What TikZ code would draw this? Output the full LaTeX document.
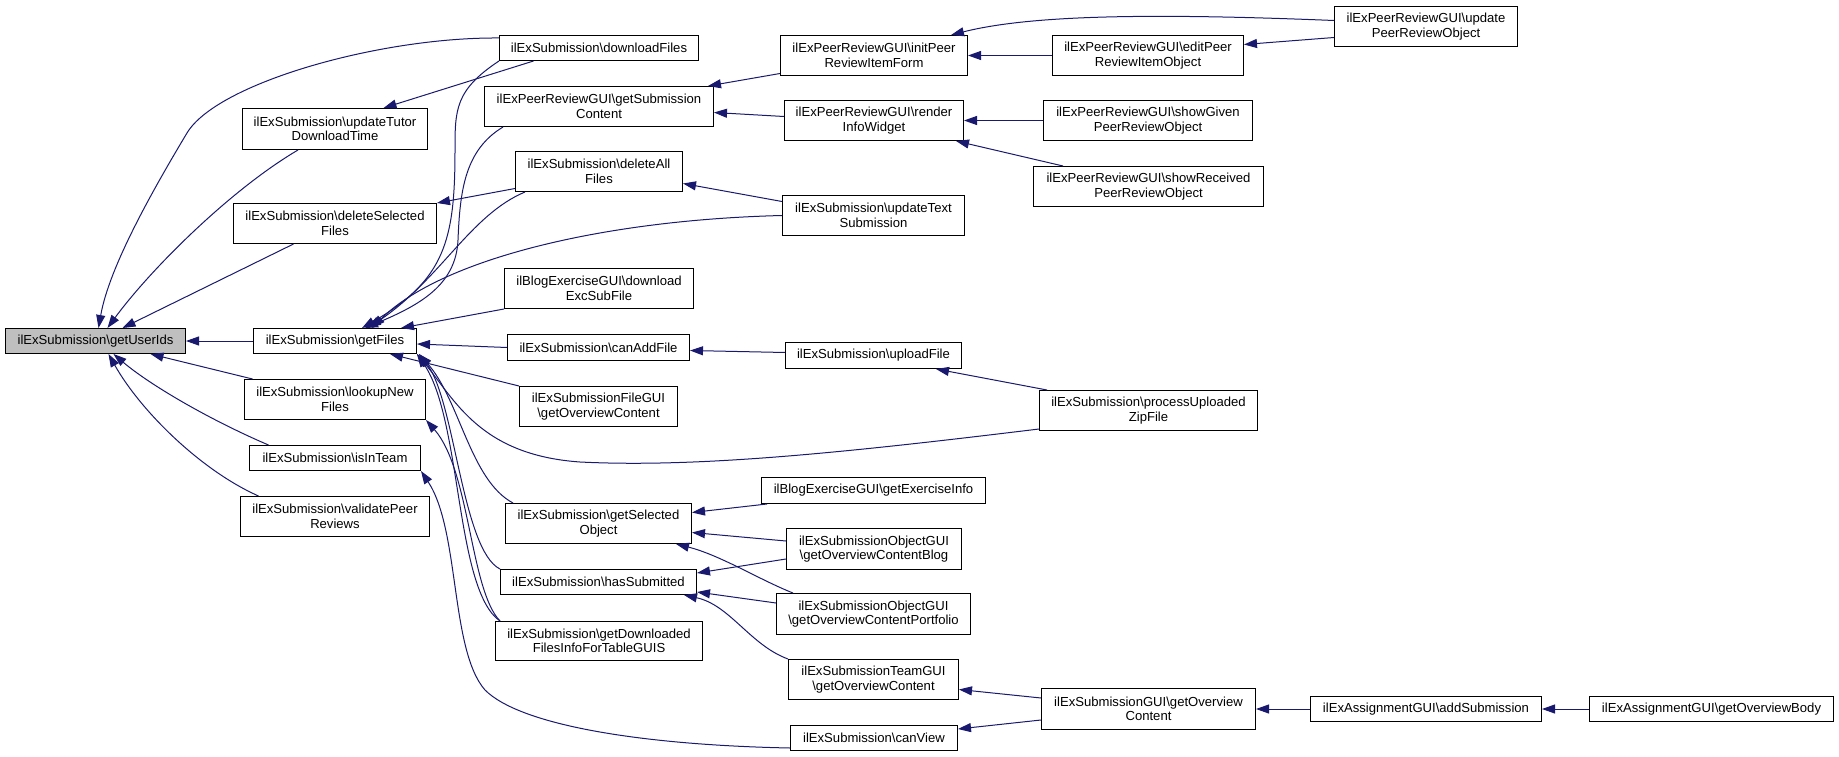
\documentclass[tikz,border=0pt]{standalone}
\usepackage{fontspec}
\setmainfont{Liberation Sans}
\usetikzlibrary{arrows.meta}
\newcommand\bsl{\textbackslash}
\definecolor{edgeblue}{HTML}{191970}
\definecolor{hilite}{HTML}{BFBFBF}
\begin{document}
\begin{tikzpicture}[x=1pt,y=-1pt,
  box/.style={draw=black,line width=1pt,inner sep=0pt,align=center,anchor=north west,
    font=\fontsize{13.1pt}{14.5pt}\selectfont},
  edge/.style={draw=edgeblue,line width=1pt,-{Triangle[length=13pt,width=9pt]}}]
\fill[white] (0,0) rectangle (1839,757);
\useasboundingbox (0,0) rectangle (1839,757);
% column 0
\node[box,fill=hilite,minimum width=180pt,minimum height=25pt] (uid) at (5,328) {ilExSubmission\bsl getUserIds};
% column 1
\node[box,minimum width=185pt,minimum height=41pt] (utdt) at (242,108) {ilExSubmission\bsl updateTutor\\DownloadTime};
\node[box,minimum width=203pt,minimum height=40pt] (dsf) at (233,203) {ilExSubmission\bsl deleteSelected\\Files};
\node[box,minimum width=163pt,minimum height=25pt] (gf) at (253,328) {ilExSubmission\bsl getFiles};
\node[box,minimum width=181pt,minimum height=40pt] (lnf) at (244,379) {ilExSubmission\bsl lookupNew\\Files};
\node[box,minimum width=171pt,minimum height=25pt] (iit) at (249,445) {ilExSubmission\bsl isInTeam};
\node[box,minimum width=189pt,minimum height=40pt] (vpr) at (240,496) {ilExSubmission\bsl validatePeer\\Reviews};
% column 2
\node[box,minimum width=199pt,minimum height=25pt] (dl) at (499,35) {ilExSubmission\bsl downloadFiles};
\node[box,minimum width=229pt,minimum height=40pt] (gsc) at (484,86) {ilExPeerReviewGUI\bsl getSubmission\\Content};
\node[box,minimum width=167pt,minimum height=40pt] (daf) at (515,151) {ilExSubmission\bsl deleteAll\\Files};
\node[box,minimum width=189pt,minimum height=40pt] (desf) at (504,268) {ilBlogExerciseGUI\bsl download\\ExcSubFile};
\node[box,minimum width=182pt,minimum height=26pt] (caf) at (507,334) {ilExSubmission\bsl canAddFile};
\node[box,minimum width=158pt,minimum height=40pt] (fgui) at (519,386) {ilExSubmissionFileGUI\\\bsl getOverviewContent};
\node[box,minimum width=186pt,minimum height=40pt] (gso) at (505,503) {ilExSubmission\bsl getSelected\\Object};
\node[box,minimum width=196pt,minimum height=25pt] (hs) at (500,569) {ilExSubmission\bsl hasSubmitted};
\node[box,minimum width=207pt,minimum height=39pt] (gdf) at (495,621) {ilExSubmission\bsl getDownloaded\\FilesInfoForTableGUIS};
% column 3
\node[box,minimum width=187pt,minimum height=40pt] (iprf) at (780,35) {ilExPeerReviewGUI\bsl initPeer\\ReviewItemForm};
\node[box,minimum width=179pt,minimum height=40pt] (riw) at (784,100) {ilExPeerReviewGUI\bsl render\\InfoWidget};
\node[box,minimum width=182pt,minimum height=40pt] (uts) at (782,195) {ilExSubmission\bsl updateText\\Submission};
\node[box,minimum width=176pt,minimum height=26pt] (uf) at (785,342) {ilExSubmission\bsl uploadFile};
\node[box,minimum width=224pt,minimum height=26pt] (gei) at (761,477) {ilBlogExerciseGUI\bsl getExerciseInfo};
\node[box,minimum width=175pt,minimum height=41pt] (ocb) at (786,528) {ilExSubmissionObjectGUI\\\bsl getOverviewContentBlog};
\node[box,minimum width=194pt,minimum height=41pt] (ocp) at (776,593) {ilExSubmissionObjectGUI\\\bsl getOverviewContentPortfolio};
\node[box,minimum width=170pt,minimum height=40pt] (tgoc) at (788,659) {ilExSubmissionTeamGUI\\\bsl getOverviewContent};
\node[box,minimum width=167pt,minimum height=25pt] (cv) at (790,725) {ilExSubmission\bsl canView};
% column 4
\node[box,minimum width=191pt,minimum height=40pt] (eprio) at (1052,35) {ilExPeerReviewGUI\bsl editPeer\\ReviewItemObject};
\node[box,minimum width=209pt,minimum height=40pt] (sgpr) at (1043,100) {ilExPeerReviewGUI\bsl showGiven\\PeerReviewObject};
\node[box,minimum width=230pt,minimum height=40pt] (srpr) at (1033,166) {ilExPeerReviewGUI\bsl showReceived\\PeerReviewObject};
\node[box,minimum width=218pt,minimum height=40pt] (puzf) at (1039,390) {ilExSubmission\bsl processUploaded\\ZipFile};
\node[box,minimum width=214pt,minimum height=41pt] (sgoc) at (1041,688) {ilExSubmissionGUI\bsl getOverview\\Content};
% column 5+
\node[box,minimum width=183pt,minimum height=40pt] (uprp) at (1334,6) {ilExPeerReviewGUI\bsl update\\PeerReviewObject};
\node[box,minimum width=231pt,minimum height=25pt] (adds) at (1310,696) {ilExAssignmentGUI\bsl addSubmission};
\node[box,minimum width=244pt,minimum height=25pt] (gob) at (1589,696) {ilExAssignmentGUI\bsl getOverviewBody};
% edges into getUserIds
\draw[edge] (gf.west) -- (uid.east);
\draw[edge] ([yshift=10pt]dl.west) .. controls (380,37) and (217,83) .. (187,133) .. controls (151,193) and (109,268) .. ([xshift=3pt]uid.north);
\draw[edge] ([xshift=-37pt]utdt.south) .. controls (230,190) and (150,270) .. ([xshift=12pt]uid.north);
\draw[edge] ([xshift=-41.5pt]dsf.south) -- ([xshift=27pt]uid.north);
\draw[edge] ([xshift=-82.5pt]lnf.north) -- ([xshift=55pt]uid.south);
\draw[edge] ([xshift=-66.5pt]iit.north) .. controls (210,420) and (150,385) .. ([xshift=18pt]uid.south);
\draw[edge] ([xshift=-76.5pt]vpr.north) .. controls (200,470) and (140,410) .. ([xshift=13pt]uid.south);
% other column-1 targets
\draw[edge] ([xshift=-65.5pt]dl.south) -- ([xshift=48.5pt]utdt.north);
\draw[edge] ([yshift=-17pt]daf.west) -- (dsf.north east);
% edges into getFiles
\draw[edge] (dl.south west) .. controls (455,90) and (455,110) .. (455,150) .. controls (455,240) and (445,280) .. ([xshift=27pt]gf.north);
\draw[edge] ([xshift=19pt]gsc.south west) .. controls (465,150) and (460,190) .. (458,240) .. controls (456,285) and (420,305) .. ([xshift=30pt]gf.north);
\draw[edge] ([xshift=10pt]daf.south west) .. controls (470,215) and (440,280) .. ([xshift=33pt]gf.north);
\draw[edge] (uts.west) .. controls (600,220) and (440,260) .. ([xshift=37pt]gf.north);
\draw[edge] (desf.south west) -- ([xshift=-16pt]gf.north east);
\draw[edge] (caf.west) -- ([yshift=-3pt]gf.east);
\draw[edge] (fgui.north west) -- ([xshift=55pt]gf.south);
\draw[edge] ([yshift=2pt]puzf.south west) .. controls (850,452) and (700,468) .. (580,462) .. controls (480,455) and (455,400) .. (gf.south east);
\draw[edge] ([xshift=8pt]gso.north west) .. controls (470,480) and (460,400) .. ([xshift=2pt]gf.south east);
\draw[edge] (hs.north west) .. controls (462,550) and (455,400) .. ([xshift=2pt]gf.south east);
\draw[edge] ([xshift=5pt]gdf.north west) .. controls (455,590) and (462,420) .. (gf.south east);
\draw[edge] ([xshift=5pt]gdf.north west) .. controls (470,590) and (470,470) .. (lnf.south east);
\draw[edge] ([yshift=-10pt]cv.west) .. controls (640,745) and (520,725) .. (485,690) .. controls (450,650) and (460,530) .. (iit.south east);
% column 3 -> column 2
\draw[edge] ([xshift=6pt]gei.south west) -- ([yshift=11pt]gso.east);
\draw[edge] ([yshift=8pt]ocb.west) -- ([yshift=-9pt]gso.east);
\draw[edge] ([xshift=17pt]ocp.north west) .. controls (760,580) and (720,555) .. ([xshift=-16pt]gso.south east);
\draw[edge] ([yshift=-10pt]ocb.west) -- ([yshift=9pt]hs.east);
\draw[edge] ([yshift=11pt]ocp.west) -- ([yshift=-10pt]hs.east);
\draw[edge] (tgoc.north west) .. controls (750,645) and (730,605) .. ([xshift=-13pt]hs.south east);
\draw[edge] ([yshift=3pt]uf.west) -- ([yshift=-3pt]caf.east);
\draw[edge] ([yshift=14pt]uts.west) -- ([yshift=-12pt]daf.east);
\draw[edge] ([yshift=-18pt]iprf.west) -- ([xshift=-6pt]gsc.north east);
\draw[edge] ([yshift=4pt]riw.west) -- ([yshift=-6pt]gsc.east);
% column 4 -> column 3
\draw[edge] ([yshift=11pt]sgoc.west) -- ([yshift=-10pt]tgoc.east);
\draw[edge] ([yshift=-11pt]sgoc.west) -- ([yshift=9pt]cv.east);
\draw[edge] ([xshift=8pt]puzf.north west) -- ([xshift=-26pt]uf.south east);
\draw[edge] (eprio.west) -- (iprf.east);
\draw[edge] (sgpr.west) -- (riw.east);
\draw[edge] ([xshift=30pt]srpr.north west) -- ([xshift=-8pt]riw.south east);
% rightmost
\draw[edge] ([yshift=6pt]uprp.west) .. controls (1150,13) and (1030,15) .. ([xshift=-17pt]iprf.north east);
\draw[edge] ([yshift=-11pt]uprp.west) -- ([yshift=11pt]eprio.east);
\draw[edge] (adds.west) -- (sgoc.east);
\draw[edge] (gob.west) -- (adds.east);
\end{tikzpicture}
\end{document}
